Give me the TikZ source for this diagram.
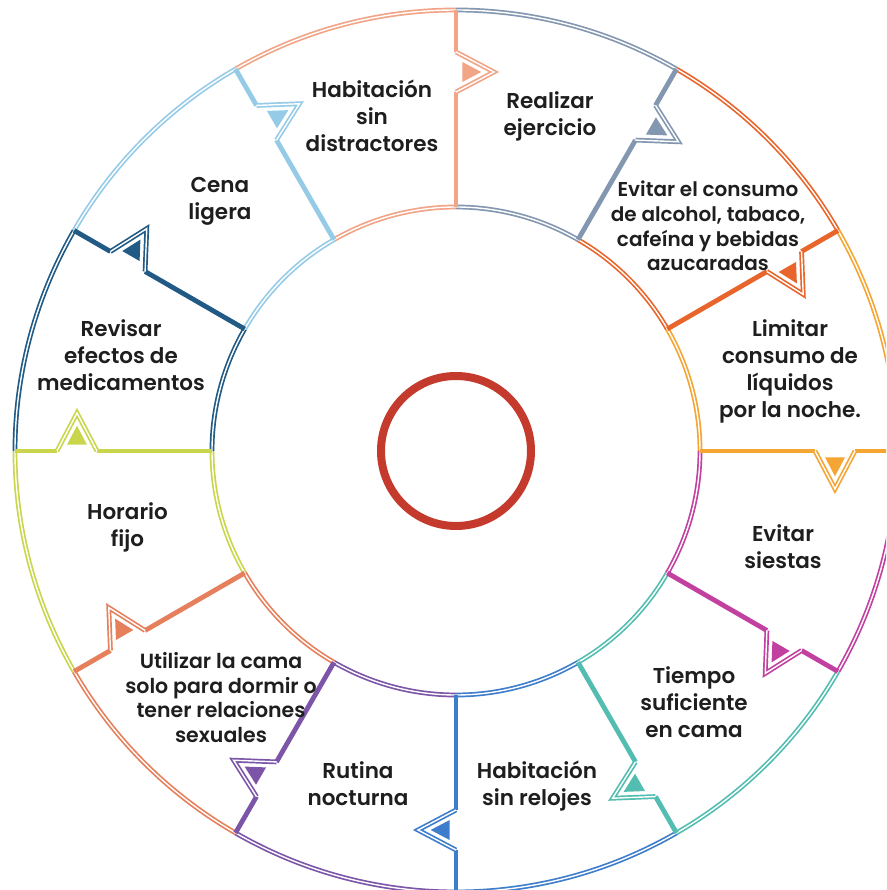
\documentclass[tikz,border=0pt]{standalone}
\usepackage{fontspec}
\newfontfamily\lblfont{Poppins SemiBold}
\definecolor{cPeach}{HTML}{F2A486}
\definecolor{cGray}{HTML}{8497B0}
\definecolor{cOrRed}{HTML}{E8652B}
\definecolor{cOrYel}{HTML}{F4A534}
\definecolor{cMag}{HTML}{C2409F}
\definecolor{cTeal}{HTML}{52BDB0}
\definecolor{cBlue}{HTML}{3E7DCB}
\definecolor{cPurp}{HTML}{7C55A8}
\definecolor{cSalm}{HTML}{E6805C}
\definecolor{cYelGr}{HTML}{C9D64B}
\definecolor{cDkBlue}{HTML}{215A85}
\definecolor{cLtBlue}{HTML}{96CBE8}
\definecolor{cRing}{HTML}{C43A2C}
\definecolor{cTxt}{HTML}{1E1E1E}
\tikzset{
  dbl/.style={line width=1.7pt, double=white, double distance=1.4pt, line join=miter},
  solidedge/.style={line width=4.8pt},
  lab/.style={font=\lblfont\fontsize{21.5}{27}\selectfont, text=cTxt, align=center, inner sep=0pt},
  labsm/.style={font=\lblfont\fontsize{20}{24.7}\selectfont, text=cTxt, align=center, inner sep=0pt},
  labsmb/.style={font=\lblfont\fontsize{20.5}{24.5}\selectfont, text=cTxt, align=center, inner sep=0pt}
}
\begin{document}
\begin{tikzpicture}[x=1pt,y=1pt]
\useasboundingbox (-456,-439) rectangle (430,451);
\clip (-456,-439) rectangle (430,451);
\fill[white] (-456,-439) rectangle (430,451);
% arcs
\foreach \a/\c in {90/cPeach,60/cGray,30/cOrRed,0/cOrYel,-30/cMag,-60/cTeal,-90/cBlue,-120/cPurp,-150/cSalm,180/cYelGr,150/cDkBlue,120/cLtBlue}{
  \pgfmathsetmacro\b{\a+30}
  \draw[dbl,draw=\c] (\b:441) arc[start angle=\b, end angle=\a, radius=441];
  \draw[dbl,draw=\c] (\a:244) arc[start angle=\a, end angle=\b, radius=244];
}
% dividers with arrows
\foreach \a/\c in {90/cPeach,60/cGray,30/cOrRed,0/cOrYel,-30/cMag,-60/cTeal,-90/cBlue,-120/cPurp,-150/cSalm,180/cYelGr,150/cDkBlue,120/cLtBlue}{
  \begin{scope}[rotate=\a]
    \draw[solidedge,draw=\c] (441,0) -- (399,0);
    \draw[solidedge,draw=\c] (359,0) -- (244,0);
    \draw[dbl,draw=\c] (399,0) -- (379,-38) -- (359,0);
    \fill[\c] (389,-6.3) -- (379,-25.3) -- (369,-6.3) -- cycle;
  \end{scope}
}
% centre ring
\draw[cRing, line width=8pt] (0,0) circle[radius=75];
% labels
\node[lab] (t1) at (-84,335.5) {Habitación\\sin\\distractores};
\node[lab] (t2) at (94,334.5) {Realizar\\ejercicio};
\node[labsm] (t3) at (252,225) {Evitar el consumo\\de alcohol, tabaco,\\cafeína y bebidas\\azucaradas};
\node[lab] (t4) at (334,80) {Limitar\\consumo de\\líquidos\\por la noche.};
\node[lab] (t5) at (327,-95.5) {Evitar\\siestas};
\node[lab] (t6) at (238,-251) {Tiempo\\suficiente\\en cama};
\node[lab] (t7) at (81,-335.5) {Habitación\\sin relojes};
\node[lab] (t8) at (-98,-332.5) {Rutina\\nocturna};
\node[labsmb] (t9) at (-235,-246.5) {Utilizar la cama\\solo para dormir o\\tener relaciones\\sexuales};
\node[lab] (t10) at (-328.5,-76.5) {Horario\\fijo};
\node[lab] (t12) at (-335,95.5) {Revisar\\efectos de\\medicamentos};
\node[lab] (t13) at (-236,250) {Cena\\ligera};
\end{tikzpicture}
\end{document}
